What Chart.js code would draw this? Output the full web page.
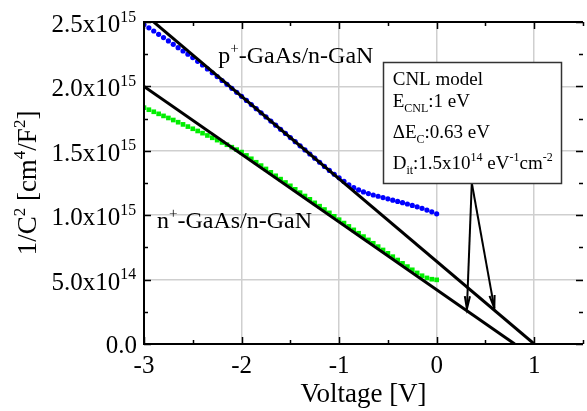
<!DOCTYPE html>
<html>
<head>
<meta charset="utf-8">
<script src="https://cdn.jsdelivr.net/npm/chart.js@4.4.0/dist/chart.umd.min.js"></script>
<style>
  html, body { margin: 0; padding: 0; background: #fff; }
</style>
</head>
<body>
<canvas id="chartCV" width="587" height="411"></canvas>
<script>
// ── Données (1/C² en unités de 1e15 cm⁴/F²) ─────────
const voltage = [
  -3.00,-2.95,-2.90,-2.85,-2.80,-2.75,-2.70,-2.65,-2.60,-2.55,
  -2.50,-2.45,-2.40,-2.35,-2.30,-2.25,-2.20,-2.15,-2.10,-2.05,
  -2.00,-1.95,-1.90,-1.85,-1.80,-1.75,-1.70,-1.65,-1.60,-1.55,
  -1.50,-1.45,-1.40,-1.35,-1.30,-1.25,-1.20,-1.15,-1.10,-1.05,
  -1.00,-0.95,-0.90,-0.85,-0.80,-0.75,-0.70,-0.65,-0.60,-0.55,
  -0.50,-0.45,-0.40,-0.35,-0.30,-0.25,-0.20,-0.15,-0.10,-0.05,
   0.00
];
const pGaAs = [
  2.480,2.455,2.430,2.404,2.379,2.353,2.327,2.301,2.275,2.250,
  2.224,2.195,2.166,2.136,2.106,2.076,2.046,2.016,1.985,1.954,
  1.923,1.891,1.859,1.827,1.795,1.763,1.731,1.699,1.667,1.635,
  1.603,1.571,1.539,1.507,1.475,1.443,1.411,1.379,1.348,1.318,
  1.290,1.262,1.236,1.214,1.196,1.181,1.168,1.157,1.147,1.137,
  1.127,1.117,1.107,1.097,1.087,1.076,1.065,1.053,1.040,1.026,
  1.011
];
const nGaAs = [
  1.835,1.819,1.803,1.787,1.771,1.755,1.739,1.722,1.705,1.688,
  1.671,1.654,1.637,1.619,1.601,1.583,1.565,1.547,1.528,1.509,
  1.490,1.464,1.438,1.411,1.385,1.359,1.333,1.306,1.280,1.254,
  1.228,1.201,1.175,1.149,1.123,1.096,1.070,1.044,1.018,0.991,
  0.965,0.939,0.913,0.886,0.860,0.834,0.808,0.782,0.756,0.730,
  0.704,0.678,0.652,0.626,0.601,0.576,0.552,0.530,0.513,0.503,
  0.498
];
// droites CNL
const fitPV = [-3, 1];
const fitPC = [2.564, 0];
const fitNV = [-3, 0.8];
const fitNC = [2.0, 0];
// flèches (origine -> pointes)
const arrowFrom = [0.36, 1.25];
const arrowTips = [[0.31, 0.272], [0.591, 0.279]];

const xMin = -3, xMax = 1.5, yMin = 0, yMax = 2.5;

const SERIF = '"Liberation Serif", "Times New Roman", serif';
const pts = (xs, ys) => xs.map((v, i) => ({ x: v, y: ys[i] }));

// texte avec indices / exposants
function rich(ctx, parts, x, y, size, measureOnly) {
  let cx = x;
  parts.forEach(p => {
    const t = typeof p === 'string' ? p : p.t;
    const s = typeof p === 'string' ? null : p.s;
    const fs = s ? size * 0.63 : size;
    ctx.font = fs + 'px ' + SERIF;
    const dy = s === 'sup' ? -size * 0.42 : s === 'sub' ? size * 0.28 : 0;
    if (!measureOnly) ctx.fillText(t, cx, y + dy);
    cx += ctx.measureText(t).width;
  });
  return cx - x;
}

function arrowHead(ctx, x0, y0, x1, y1, len, half) {
  const ang = Math.atan2(y1 - y0, x1 - x0);
  ctx.beginPath();
  ctx.moveTo(x1 - len * Math.cos(ang - half), y1 - len * Math.sin(ang - half));
  ctx.lineTo(x1, y1);
  ctx.lineTo(x1 - len * Math.cos(ang + half), y1 - len * Math.sin(ang + half));
  ctx.stroke();
}

const isMajorX = v => Math.abs(v - Math.round(v)) < 1e-6;
const isMajorY = v => Math.abs(v * 2 - Math.round(v * 2)) < 1e-6;

// ── Cadre, graduations, textes ─────────────────────
const framePlugin = {
  id: 'frame',
  afterDatasetsDraw(chart) {
    const { ctx, chartArea: a, scales: { x, y } } = chart;
    ctx.save();
    ctx.strokeStyle = '#000';
    ctx.fillStyle = '#000';
    ctx.lineWidth = 2;

    // cadre
    ctx.beginPath();
    ctx.moveTo(a.right, a.top);
    ctx.lineTo(a.left, a.top);
    ctx.lineTo(a.left, a.bottom);
    ctx.lineTo(a.right, a.bottom);
    ctx.stroke();

    // graduations internes
    ctx.lineWidth = 1.5;
    x.ticks.forEach(t => {
      const px = Math.round(x.getPixelForValue(t.value)) + 0.5;
      const len = isMajorX(t.value) ? 7 : 4;
      ctx.beginPath();
      ctx.moveTo(px, a.bottom); ctx.lineTo(px, a.bottom - len);
      ctx.moveTo(px, a.top); ctx.lineTo(px, a.top + len);
      ctx.stroke();
    });
    y.ticks.forEach(t => {
      const py = Math.round(y.getPixelForValue(t.value)) + 0.5;
      const len = isMajorY(t.value) ? 7 : 4;
      ctx.beginPath();
      ctx.moveTo(a.left, py); ctx.lineTo(a.left + len, py);
      ctx.moveTo(a.right, py); ctx.lineTo(a.right - len, py);
      ctx.stroke();
    });

    // étiquettes X
    ctx.textAlign = 'center';
    ctx.textBaseline = 'alphabetic';
    ctx.font = '25px ' + SERIF;
    x.ticks.forEach(t => {
      if (!isMajorX(t.value) || t.value > 1.01) return;
      ctx.fillText(String(Math.round(t.value)), x.getPixelForValue(t.value), a.bottom + 29);
    });

    // étiquettes Y
    ctx.textAlign = 'left';
    y.ticks.forEach(t => {
      if (!isMajorY(t.value)) return;
      const py = y.getPixelForValue(t.value);
      const right = a.left - 8;
      if (Math.abs(t.value) < 1e-9) {
        ctx.font = '25px ' + SERIF;
        const w = ctx.measureText('0.0').width;
        ctx.fillText('0.0', right - w + 1, py + 9);
        return;
      }
      const v = t.value * 1e15;
      const ex = Math.floor(Math.log10(v) + 1e-9);
      const mant = (v / Math.pow(10, ex)).toFixed(1);
      const parts = [mant + 'x10', { t: String(ex), s: 'sup' }];
      const w = rich(ctx, parts, 0, 0, 25, true);
      rich(ctx, parts, right - w, py + 10, 25);
    });

    // titre X
    ctx.font = '27px ' + SERIF;
    ctx.textAlign = 'center';
    ctx.fillText('Voltage [V]', (a.left + a.right) / 2, 402);

    // titre Y
    ctx.textAlign = 'left';
    const yt = ['1/C', { t: '2', s: 'sup' }, ' [cm', { t: '4', s: 'sup' }, '/F', { t: '2', s: 'sup' }, ']'];
    ctx.save();
    ctx.translate(28, (a.top + a.bottom) / 2);
    ctx.rotate(-Math.PI / 2);
    const tw = rich(ctx, yt, 0, 0, 27, true);
    rich(ctx, yt, -tw / 2, 8, 27);
    ctx.restore();

    // étiquettes des courbes
    rich(ctx, ['p', { t: '+', s: 'sup' }, '-GaAs/n-GaN'], x.getPixelForValue(-2.239), y.getPixelForValue(2.182), 24);
    rich(ctx, ['n', { t: '+', s: 'sup' }, '-GaAs/n-GaN'], x.getPixelForValue(-2.868), y.getPixelForValue(0.9006), 24);

    // flèches
    ctx.lineWidth = 2;
    const fx = x.getPixelForValue(arrowFrom[0]);
    const fy = y.getPixelForValue(arrowFrom[1]);
    arrowTips.forEach(tp => {
      const tx = x.getPixelForValue(tp[0]);
      const ty = y.getPixelForValue(tp[1]);
      ctx.beginPath();
      ctx.moveTo(fx, fy); ctx.lineTo(tx, ty);
      ctx.stroke();
      arrowHead(ctx, fx, fy, tx, ty, 13, 0.2);
    });

    // encadré CNL
    const bx0 = x.getPixelForValue(-0.553), bx1 = x.getPixelForValue(1.274);
    const by0 = y.getPixelForValue(2.189), by1 = y.getPixelForValue(1.25);
    ctx.fillStyle = '#fff';
    ctx.fillRect(bx0, by0, bx1 - bx0, by1 - by0);
    ctx.strokeStyle = '#333';
    ctx.lineWidth = 1.5;
    ctx.strokeRect(Math.round(bx0) + 0.5, Math.round(by0) + 0.5, Math.round(bx1 - bx0), Math.round(by1 - by0));
    ctx.fillStyle = '#000';
    const tx0 = bx0 + 10;
    rich(ctx, ['CNL model'], tx0, by0 + 23, 19);
    rich(ctx, ['E', { t: 'CNL', s: 'sub' }, ':1 eV'], tx0, by0 + 45, 19);
    rich(ctx, ['\u0394E', { t: 'C', s: 'sub' }, ':0.63 eV'], tx0, by0 + 76, 19);
    rich(ctx, ['D', { t: 'it', s: 'sub' }, ':1.5x10', { t: '14', s: 'sup' }, ' eV', { t: '-1', s: 'sup' }, 'cm', { t: '-2', s: 'sup' }], tx0, by0 + 107, 19);

    ctx.restore();
  }
};

new Chart(document.getElementById('chartCV'), {
  type: 'scatter',
  data: {
    datasets: [
      {
        label: 'fitP', data: pts(fitPV, fitPC), showLine: true,
        borderColor: '#000', borderWidth: 3, pointRadius: 0, clip: 0, order: 0
      },
      {
        label: 'fitN', data: pts(fitNV, fitNC), showLine: true,
        borderColor: '#000', borderWidth: 3, pointRadius: 0, clip: 0, order: 0
      },
      {
        label: 'p+-GaAs/n-GaN', data: pts(voltage, pGaAs),
        pointStyle: 'circle', pointRadius: 2.6, borderWidth: 0,
        backgroundColor: '#0000ff', order: 1
      },
      {
        label: 'n+-GaAs/n-GaN', data: pts(voltage, nGaAs),
        pointStyle: 'rect', pointRadius: 3.3, borderWidth: 0,
        backgroundColor: '#00ee00', order: 2
      }
    ]
  },
  options: {
    responsive: false,
    animation: false,
    devicePixelRatio: 1,
    layout: { padding: { top: 22, right: 0, left: 0, bottom: 0 } },
    plugins: { legend: { display: false }, tooltip: { enabled: false } },
    scales: {
      x: {
        type: 'linear', min: xMin, max: xMax,
        ticks: { stepSize: 0.5, display: false },
        grid: {
          color: c => isMajorX(c.tick.value) ? '#cfcfcf' : 'rgba(0,0,0,0)',
          lineWidth: 1.5, drawTicks: false
        },
        border: { display: false },
        afterFit: s => { s.height = 67; }
      },
      y: {
        type: 'linear', min: yMin, max: yMax,
        ticks: { stepSize: 0.25, display: false },
        grid: {
          color: c => isMajorY(c.tick.value) ? '#cfcfcf' : 'rgba(0,0,0,0)',
          lineWidth: 1.5, drawTicks: false
        },
        border: { display: false },
        afterFit: s => { s.width = 144; }
      }
    }
  },
  plugins: [framePlugin]
});
</script>
</body>
</html>
